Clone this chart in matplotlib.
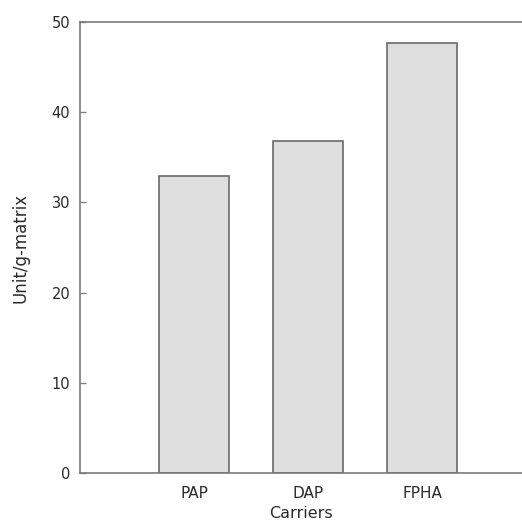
import numpy as np
import matplotlib.pyplot as plt

plt.rcParams["font.family"] = ["DejaVu Sans"]

# Data
carriers = ["PAP", "DAP", "FPHA"]
activity = [32.9, 36.8, 47.7]
yticks = [0, 10, 20, 30, 40, 50]

x = np.arange(len(carriers))

fig = plt.figure(figsize=(5.22, 5.24), dpi=100)
ax = fig.add_axes([0.1533, 0.0973, 0.8467, 0.8607])

ax.bar(x, activity, width=0.61, color="#dedede", edgecolor="#6a6a6a", linewidth=1.2)

ax.set_xlim(-1, 2.877)
ax.set_ylim(0, 50)
ax.set_yticks(yticks)
ax.set_xticks(x)
ax.set_xticklabels(carriers)

ax.tick_params(axis="y", direction="in", length=4.5, width=1, color="#808080",
               labelsize=10.5, pad=7, labelcolor="#2a2a2a")
ax.tick_params(axis="x", length=0, labelsize=11, pad=9, labelcolor="#2a2a2a")

for side in ["left", "top", "bottom"]:
    ax.spines[side].set_color("#7a7a7a")
    ax.spines[side].set_linewidth(1.2)
ax.spines["right"].set_visible(False)

ax.set_xlabel("Carriers", fontsize=11.5, color="#2a2a2a", labelpad=4)
ax.set_ylabel("Unit/g-matrix", fontsize=12, color="#2a2a2a", labelpad=16)

plt.savefig("out.png", dpi=100)
